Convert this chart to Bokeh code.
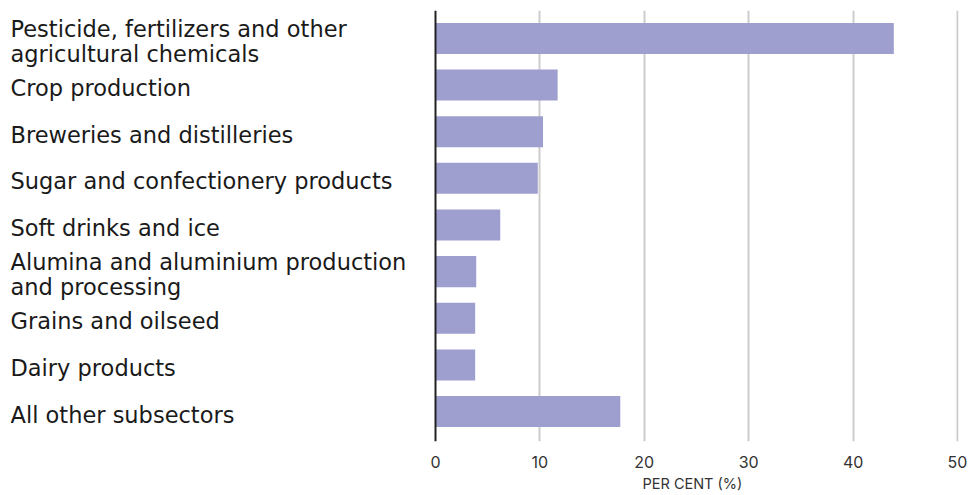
from bokeh.plotting import figure
from bokeh.models import ColumnDataSource, Range1d, Span, FixedTicker, Title
from bokeh.core.properties import value
from bokeh.embed import file_html
from bokeh.resources import INLINE

categories = [
    "Pesticide, fertilizers and other\nagricultural chemicals",
    "Crop production",
    "Breweries and distilleries",
    "Sugar and confectionery products",
    "Soft drinks and ice",
    "Alumina and aluminium production\nand processing",
    "Grains and oilseed",
    "Dairy products",
    "All other subsectors",
]
values = [43.9, 11.7, 10.3, 9.8, 6.2, 3.9, 3.8, 3.8, 17.7]
x_ticks = [0, 10, 20, 30, 40, 50]
x_label = "PER CENT (%)"

pos = list(range(len(categories)))
src = ColumnDataSource(dict(y=pos, v=values, cat=categories, zero=[0] * len(pos)))

# frame spans page x 10..958; value 0 sits at x=435, 50 at x=957
p = figure(width=968, height=495, output_backend="svg", toolbar_location=None,
           x_range=Range1d(-40.709, 50.096), y_range=Range1d(8.643, -0.6),
           min_border_left=10, min_border_right=10, min_border_top=10, min_border_bottom=54)
p.outline_line_color = None
p.background_fill_color = "white"

p.hbar(y="y", left=0, right="v", height=0.665, source=src, color="#9e9fce", line_color=None)

p.text(x="zero", y="y", text="cat", source=src, x_offset=-425, y_offset=3,
       text_align="left", text_baseline="middle", text_font=value("DejaVu Sans"),
       text_font_size="22.5px", text_color="#1a1a1a", text_line_height=0.95)

p.add_layout(Span(location=0, dimension="height", line_color="#222222", line_width=2))

p.yaxis.visible = False
p.ygrid.visible = False
p.xgrid.ticker = FixedTicker(ticks=x_ticks[1:])
p.xgrid.grid_line_color = "#cccccc"
p.xgrid.grid_line_width = 2
p.xaxis.ticker = FixedTicker(ticks=x_ticks)
p.xaxis.axis_line_color = None
p.xaxis.major_tick_line_color = None
p.xaxis.minor_tick_line_color = None
p.xaxis.major_label_text_font = "Inter"
p.xaxis.major_label_text_font_size = "16px"
p.xaxis.major_label_text_font_style = "normal"
p.xaxis.major_label_text_color = "#333333"
p.xaxis.major_label_standoff = 8

# axis title, centred under the 0..50 value region (starts at page x ~642)
p.add_layout(Title(text=x_label, align="left", offset=632, standoff=4,
                   text_font="Inter", text_font_size="14.5px", text_font_style="normal",
                   text_color="#333333"), "below")

open("out.html", "w").write(file_html(p, INLINE))
